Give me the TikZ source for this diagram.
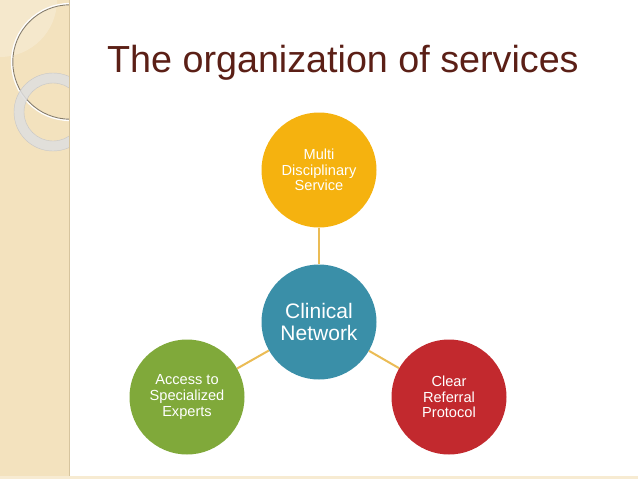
\documentclass[tikz,border=0pt]{standalone}
\usepackage{fontspec}
\setmainfont{Liberation Sans}
\usepackage{xcolor}
\definecolor{stripbg}{HTML}{F3E2BE}
\definecolor{stripedge}{HTML}{D6C49E}
\definecolor{titlered}{HTML}{5B1F16}
\definecolor{linkgold}{HTML}{EBBC55}
\definecolor{multiyellow}{HTML}{F5B20F}
\definecolor{clinicalteal}{HTML}{3A8FA8}
\definecolor{accessgreen}{HTML}{80A93A}
\definecolor{referralred}{HTML}{C2292E}

\begin{document}
\begin{tikzpicture}[x=1pt, y=-1pt,
    bubble/.style={circle, minimum size=115pt, inner sep=0pt, align=center, text=white},
    small/.style={font=\fontsize{14.6}{15.7}\selectfont},
    link/.style={draw=linkgold, line width=2pt}]
    \useasboundingbox (0,0) rectangle (638,479);
    \fill[white] (0,0) rectangle (638,479);

    % Side strip with rings
    \fill[stripbg] (0,0) rectangle (70,479);
    \fill[stripbg!70] (0,476) rectangle (638,479);
    \begin{scope}
        \clip (0,0) rectangle (69,479);
        \fill[white, opacity=0.22] (0,0) circle (57pt);
        \draw[white, line width=2.2pt] (70,62) circle (58pt);
        \draw[black!45!stripbg, line width=0.9pt] (70,62) circle (57.2pt);
        \fill[gray!25, opacity=0.85, even odd rule] (53,112) circle (39pt) (53,112) circle (29pt);
        \draw[gray!45, line width=0.4pt] (53,112) circle (39pt) (53,112) circle (29pt);
    \end{scope}
    \draw[stripedge, line width=1pt] (69.5,0) -- (69.5,476);

    % Title
    \node[anchor=base west, inner sep=0pt, text=titlered, font=\fontsize{37.7}{40}\selectfont] (title) at (107,72) {The organization of services};

    % Circles
    \node[bubble, fill=clinicalteal, font=\fontsize{21}{22}\selectfont] (clinical) at (319,322) {Clinical\\Network};
    \node[bubble, small, fill=multiyellow] (multi) at (319,170) {Multi\\Disciplinary\\Service};
    \node[bubble, small, fill=accessgreen] (access) at (187,397) {Access to\\Specialized\\Experts};
    \node[bubble, small, fill=referralred] (referral) at (449,397) {Clear\\Referral\\Protocol};

    % Links
    \draw[link] (multi) -- (clinical);
    \draw[link] (access) -- (clinical);
    \draw[link] (referral) -- (clinical);
\end{tikzpicture}
\end{document}
